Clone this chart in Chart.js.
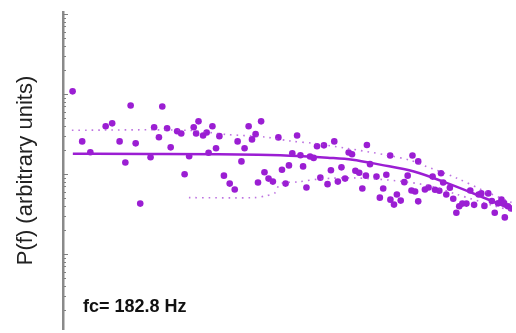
<!DOCTYPE html>
<html>
<head>
<meta charset="utf-8">
<script src="https://cdn.jsdelivr.net/npm/chart.js@4.4.1/dist/chart.umd.min.js"></script>
<style>
html, body { margin: 0; padding: 0; background: #fff; }
#wrap { width: 516px; height: 333px; }
</style>
</head>
<body>
<div id="wrap"><canvas id="spectrum"></canvas></div>
<script>
// log10 of frequency (Hz) and log10 of power
const pointLogF = [0.760, 0.800, 0.834, 0.898, 0.925, 0.956, 0.980, 1.002, 1.023, 1.042,
    1.085, 1.100, 1.120, 1.134, 1.154, 1.169, 1.196, 1.213, 1.227, 1.246,
    1.265, 1.275, 1.285, 1.304, 1.319, 1.327, 1.343, 1.358, 1.372, 1.391,
    1.415, 1.436, 1.448, 1.464, 1.477, 1.494, 1.508, 1.523, 1.533, 1.546,
    1.560, 1.577, 1.595, 1.618, 1.633, 1.648, 1.662, 1.676, 1.696, 1.710,
    1.721, 1.735, 1.750, 1.765, 1.779, 1.793, 1.808, 1.823, 1.837, 1.851,
    1.866, 1.881, 1.896, 1.911, 1.925, 1.939, 1.955, 1.968, 1.983, 1.987,
    2.000, 2.027, 2.041, 2.055, 2.068, 2.084, 2.085, 2.100, 2.112, 2.128,
    2.143, 2.157, 2.173, 2.177, 2.188, 2.201, 2.201, 2.229, 2.244, 2.261,
    2.271, 2.289, 2.296, 2.305, 2.318, 2.333, 2.347, 2.360, 2.372, 2.385,
    2.402, 2.418, 2.434, 2.453, 2.464, 2.477, 2.493, 2.508, 2.520, 2.534,
    2.548, 2.559, 2.562, 2.575, 2.588];
const pointLogP = [-0.967, -1.593, -1.728, -1.404, -1.367, -1.593, -1.856, -1.144, -1.617, -2.370,
    -1.790, -1.416, -1.540, -1.157, -1.428, -1.667, -1.465, -1.494, -2.004, -1.778,
    -1.416, -1.494, -1.342, -1.519, -1.481, -1.735, -1.404, -1.679, -1.527, -2.021,
    -2.120, -2.194, -1.593, -1.843, -1.679, -1.404, -1.568, -1.502, -2.107, -1.342,
    -1.979, -2.058, -2.095, -1.543, -1.947, -2.120, -1.893, -1.741, -1.519, -1.765,
    -1.905, -2.169, -1.781, -1.799, -1.654, -2.046, -1.642, -2.127, -1.954, -1.593,
    -2.095, -1.917, -2.058, -1.731, -1.753, -1.959, -1.984, -2.181, -2.021, -1.638,
    -1.877, -2.033, -2.296, -2.181, -2.009, -1.769, -2.321, -2.383, -2.256, -2.333,
    -2.102, -2.021, -2.206, -1.769, -2.219, -1.843, -2.342, -2.194, -2.169, -2.033,
    -2.198, -2.210, -1.991, -2.107, -2.256, -2.173, -2.309, -2.485, -2.404, -2.370,
    -2.370, -2.206, -2.386, -2.256, -2.243, -2.399, -2.243, -2.337, -2.485, -2.367,
    -2.321, -2.362, -2.543, -2.404, -2.432];

// fitted spectrum
const fitLogF = [0.761, 1.079, 1.369, 1.534, 1.699, 1.823, 1.927, 2.042, 2.183, 2.319, 2.455, 2.592];
const fitLogP = [-1.747, -1.749, -1.753, -1.760, -1.775, -1.796, -1.821, -1.883, -1.969, -2.111, -2.272, -2.444];

// dotted bounds
const upperLogF = [0.757, 1.232, 1.402, 1.559, 1.670, 1.765, 1.902, 2.067, 2.166, 2.220, 2.360, 2.484, 2.592];
const upperLogP = [-1.453, -1.453, -1.506, -1.537, -1.589, -1.617, -1.679, -1.762, -1.827, -1.889, -2.049, -2.222, -2.358];
const lowerLogF = [1.245, 1.517, 1.567, 1.604, 1.625, 1.699, 1.794, 1.931, 2.112, 2.249, 2.360, 2.513, 2.592];
const lowerLogP = [-2.296, -2.296, -2.272, -2.235, -2.123, -2.099, -2.062, -2.049, -2.086, -2.148, -2.253, -2.395, -2.457];

const cornerLabel = "fc= 182.8 Hz";
const yTitle = "P(f) (arbitrary units)";

const purple = "#9b1ed3";

function pairs(xs, ys) {
    return xs.map((x, i) => ({ x: x, y: ys[i] }));
}

// little log ticks on the inner side of the axis
const logTicks = {
    id: "logTicks",
    afterDraw(chart) {
        const y = chart.scales.y;
        const ctx = chart.ctx;
        const x0 = chart.chartArea.left;
        ctx.save();
        ctx.strokeStyle = "#808080";
        ctx.lineWidth = 1;
        for (let d = Math.floor(y.min); d <= Math.ceil(y.max); d++) {
            for (let k = 1; k <= 9; k++) {
                const v = d + Math.log10(k);
                if (v < y.min || v > y.max) continue;
                const py = Math.round(y.getPixelForValue(v)) + 0.5;
                ctx.beginPath();
                ctx.moveTo(x0 + (k === 1 ? 0 : 1), py);
                ctx.lineTo(x0 + (k === 1 ? 5 : 3), py);
                ctx.stroke();
            }
        }
        ctx.restore();
    }
};

const fcText = {
    id: "fcText",
    afterDraw(chart) {
        const ctx = chart.ctx;
        ctx.save();
        ctx.font = "bold 18px 'Liberation Sans', Arial, sans-serif";
        ctx.fillStyle = "#111";
        ctx.textBaseline = "alphabetic";
        ctx.fillText(cornerLabel, chart.chartArea.left + 20, 311.5);
        ctx.restore();
    }
};

const ctx = document.getElementById("spectrum").getContext("2d");

new Chart(ctx, {
    type: "scatter",
    data: {
        datasets: [
            {
                label: "upper",
                data: pairs(upperLogF, upperLogP),
                showLine: true,
                pointRadius: 0,
                borderColor: "rgba(168, 70, 215, 0.75)",
                borderWidth: 1.6,
                borderDash: [1.6, 5],
                tension: 0.3
            },
            {
                label: "lower",
                data: pairs(lowerLogF, lowerLogP),
                showLine: true,
                pointRadius: 0,
                borderColor: "rgba(168, 70, 215, 0.75)",
                borderWidth: 1.6,
                borderDash: [1.6, 5],
                tension: 0.3
            },
            {
                label: "fit",
                data: pairs(fitLogF, fitLogP),
                showLine: true,
                pointRadius: 0,
                borderColor: purple,
                borderWidth: 2.5,
                cubicInterpolationMode: "monotone"
            },
            {
                label: "P(f)",
                data: pairs(pointLogF, pointLogP),
                pointRadius: 3.3,
                pointBackgroundColor: purple,
                pointBorderWidth: 0,
                showLine: false
            }
        ]
    },
    options: {
        responsive: true,
        maintainAspectRatio: false,
        animation: false,
        layout: {
            padding: { top: 12, left: 0, right: 0, bottom: 0 }
        },
        plugins: {
            legend: { display: false },
            tooltip: { enabled: false }
        },
        scales: {
            x: {
                type: "linear",
                display: false,
                min: 0.72,
                max: 2.592
            },
            y: {
                type: "linear",
                min: -3.938,
                max: 0.025,
                ticks: { display: false },
                grid: { display: false, drawTicks: false },
                border: { display: true, color: "#8a8a8a", width: 2.5 },
                title: {
                    display: true,
                    text: yTitle,
                    color: "#222",
                    font: { family: "'Liberation Sans', Arial, sans-serif", size: 22, weight: "normal" },
                    padding: { top: 13, bottom: 23.6 }
                }
            }
        }
    },
    plugins: [logTicks, fcText]
});
</script>
</body>
</html>
